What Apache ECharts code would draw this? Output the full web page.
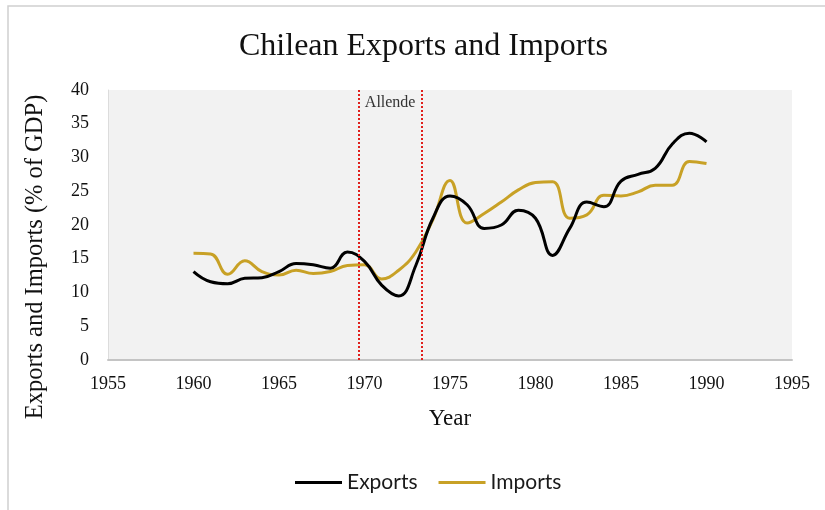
<!DOCTYPE html>
<html>
<head>
<meta charset="utf-8">
<script src="https://cdn.jsdelivr.net/npm/echarts@6/dist/echarts.min.js"></script>
<style>
html,body{margin:0;padding:0;background:#fff;}
#chart{width:825px;height:510px;}
</style>
</head>
<body>
<div id="chart"></div>
<script>
var years = [1960,1961,1962,1963,1964,1965,1966,1967,1968,1969,1970,1971,1972,1973,1974,1975,1976,1977,1978,1979,1980,1981,1982,1983,1984,1985,1986,1987,1988,1989,1990];
var exportsPct = [13.1,11.6,11.3,12.1,12.2,13.1,14.3,14.1,13.6,16.0,14.6,11.1,9.5,14.0,21.0,24.3,23.0,19.5,20.0,22.2,21.0,15.5,19.5,23.4,22.7,26.5,27.5,28.4,32.0,33.6,32.3];
var importsPct = [15.8,15.7,12.7,14.7,13.1,12.6,13.3,12.8,13.1,14.0,14.1,12.0,13.3,16.0,20.8,26.6,20.3,21.7,23.4,25.2,26.3,26.4,21.0,21.5,24.4,24.3,24.9,25.9,25.9,29.4,29.1];
var allendeStart = 1969.65;
var allendeEnd = 1973.35;
var allendeLabel = 'Allende';

function pairs(vals){ return years.map(function(y,i){ return [y, vals[i]]; }); }

var serif = '"Liberation Serif","Times New Roman",serif';
var chart = echarts.init(document.getElementById('chart'));
chart.setOption({
  animation: false,
  backgroundColor: '#ffffff',
  graphic: [{
    type: 'rect', silent: true, z: -10,
    shape: {x: 8, y: 6, width: 840, height: 540},
    style: {fill: 'none', stroke: '#d0d0d0', lineWidth: 1.5}
  }],
  title: {
    text: 'Chilean Exports and Imports',
    left: 234, top: 26,
    textStyle: {fontFamily: serif, fontSize: 32, fontWeight: 'normal', color: '#111'}
  },
  legend: {
    top: 467, left: 290,
    icon: 'rect', itemWidth: 47, itemHeight: 3, itemGap: 21,
    textStyle: {fontFamily: 'Lato', fontSize: 21, color: '#1a1a1a'},
    data: ['Exports', 'Imports']
  },
  grid: {
    left: 108, right: 33, top: 90, bottom: 150,
    show: true, backgroundColor: '#f2f2f2', borderWidth: 0
  },
  xAxis: {
    type: 'value', min: 1955, max: 1995, interval: 5,
    name: 'Year', nameLocation: 'middle', nameGap: 47,
    nameTextStyle: {fontFamily: serif, fontSize: 23, color: '#111'},
    axisLine: {show: true, lineStyle: {color: '#c4c4c4', width: 2}},
    axisTick: {show: false},
    splitLine: {show: false},
    axisLabel: {fontFamily: serif, fontSize: 18, color: '#111', margin: 15,
      formatter: function(v){ return String(v); }}
  },
  yAxis: {
    type: 'value', min: 0, max: 40, interval: 5,
    name: 'Exports and Imports (% of GDP)', nameLocation: 'middle', nameGap: 60,
    nameTextStyle: {fontFamily: serif, fontSize: 24.5, color: '#111', padding: [0, 64, 0, 0]},
    axisLine: {show: true, lineStyle: {color: '#dcdcdc', width: 1}},
    axisTick: {show: false},
    splitLine: {show: false},
    axisLabel: {fontFamily: serif, fontSize: 18, color: '#111', margin: 19}
  },
  series: [
    {
      name: 'Exports', type: 'line', data: pairs(exportsPct),
      smooth: 0.45, showSymbol: false, symbol: 'none',
      lineStyle: {color: '#000000', width: 3}, itemStyle: {color: '#000000'},
      z: 3,
      markLine: {
        silent: true, symbol: 'none',
        lineStyle: {type: 'dotted', color: '#e0201c', width: 2},
        label: {show: false},
        data: [{xAxis: allendeStart}, {xAxis: allendeEnd}]
      },
      markArea: {
        silent: true,
        itemStyle: {color: 'rgba(0,0,0,0)'},
        label: {show: true, position: 'insideTop', distance: 5, fontFamily: serif, fontSize: 16, color: '#333'},
        data: [[{xAxis: allendeStart, name: allendeLabel}, {xAxis: allendeEnd}]]
      }
    },
    {
      name: 'Imports', type: 'line', data: pairs(importsPct),
      smooth: 0.45, showSymbol: false, symbol: 'none',
      lineStyle: {color: '#c8a126', width: 3}, itemStyle: {color: '#c8a126'},
      z: 2
    }
  ]
});
</script>
</body>
</html>
